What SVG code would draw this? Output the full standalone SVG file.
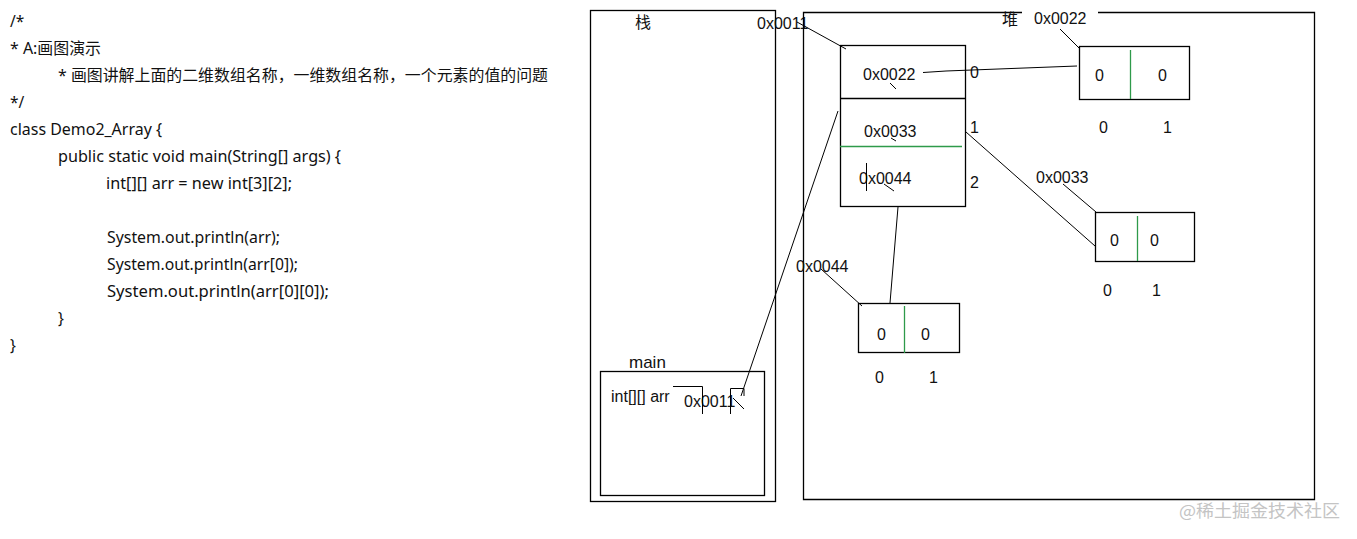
<svg xmlns="http://www.w3.org/2000/svg" width="1357" height="539" viewBox="0 0 1357 539">
<style>
.code{font-family:"Noto Sans","Noto Sans CJK SC",sans-serif;font-size:15.5px;fill:#111}
.t{font-family:"Liberation Sans","Noto Sans CJK SC",sans-serif;font-size:16px;fill:#111}
.cjk{font-family:"Noto Sans CJK SC",sans-serif;font-size:16px;fill:#111}
.box{fill:none;stroke:#000;stroke-width:1.3}
.ln{fill:none;stroke:#000;stroke-width:1}
.g{stroke:#2e9a4a;stroke-width:1.3}
.wm{font-family:"Noto Sans CJK SC",sans-serif;font-size:17px;fill:#c4c4c4}
</style>
<defs><clipPath id="arrclip"><rect x="600" y="380" width="73" height="30"/></clipPath></defs>
<rect width="1357" height="539" fill="#fff"/>
<g id="code">
<text class="code" x="10" y="27">/*</text>
<text class="code" x="10" y="54" textLength="91" lengthAdjust="spacingAndGlyphs">* A:画图演示</text>
<text class="code" x="58" y="81" textLength="490" lengthAdjust="spacingAndGlyphs">* 画图讲解上面的二维数组名称，一维数组名称，一个元素的值的问题</text>
<text class="code" x="10" y="108">*/</text>
<text class="code" x="10" y="135" textLength="152" lengthAdjust="spacingAndGlyphs">class Demo2_Array {</text>
<text class="code" x="58" y="162" textLength="283" lengthAdjust="spacingAndGlyphs">public static void main(String[] args) {</text>
<text class="code" x="106" y="189" textLength="186" lengthAdjust="spacingAndGlyphs">int[][] arr = new int[3][2];</text>
<text class="code" x="107" y="243" textLength="173" lengthAdjust="spacingAndGlyphs">System.out.println(arr);</text>
<text class="code" x="107" y="270" textLength="191" lengthAdjust="spacingAndGlyphs">System.out.println(arr[0]);</text>
<text class="code" x="107" y="297" textLength="222" lengthAdjust="spacingAndGlyphs">System.out.println(arr[0][0]);</text>
<text class="code" x="58" y="324">}</text>
<text class="code" x="10" y="351">}</text>
</g>
<g id="stack">
<rect class="box" x="590.5" y="10.5" width="185" height="491"/>
<text class="cjk" x="635" y="28">栈</text>
<text class="t" x="757" y="29">0x0011</text>
</g>
<g id="heap">
<path class="box" d="M1022 12.5 H803.5 V499.5 H1314.5 V12.5 H1098"/>
<text class="cjk" x="1002" y="25">堆</text>
<text class="t" x="1034" y="24">0x0022</text>
<text class="t" x="1036" y="183">0x0033</text>
<text class="t" x="796" y="272">0x0044</text>
</g>
<g id="main-frame">
<text class="t" x="629" y="368" style="font-size:17px">main</text>
<rect class="box" x="600.5" y="371.5" width="164" height="124"/>
<text class="t" x="611" y="402" clip-path="url(#arrclip)">int[][] arr</text>
<text class="t" x="684" y="407">0x0011</text>
<path class="ln" d="M673 386.5 H702.5 V414 M730.5 414 V388.5 H744 V396 M733 398 L744 409"/>
</g>
<g id="arr-outer">
<rect class="box" x="840.5" y="45.5" width="125" height="161"/>
<line class="box" x1="840" y1="98.5" x2="965" y2="98.5"/>
<line class="g" x1="840" y1="146.5" x2="962" y2="146.5"/>
<text class="t" x="863" y="80">0x0022</text>
<text class="t" x="864" y="137">0x0033</text>
<text class="t" x="859" y="184">0x0044</text>
<path class="ln" d="M890 83 L896 89 M891 138 L896 141 M884 184 L894 191 M866.5 163 V191"/>
<text class="t" x="970" y="78">0</text>
<text class="t" x="970" y="133">1</text>
<text class="t" x="970" y="188">2</text>
</g>
<g id="arr-0">
<rect class="box" x="1079.5" y="46.5" width="110" height="53"/>
<line class="g" x1="1130.5" y1="50" x2="1130.5" y2="99"/>
<text class="t" x="1095" y="81">0</text>
<text class="t" x="1158" y="81">0</text>
<text class="t" x="1099" y="133">0</text>
<text class="t" x="1163" y="133">1</text>
</g>
<g id="arr-1">
<rect class="box" x="1095.5" y="212.5" width="99" height="49"/>
<line class="g" x1="1137.5" y1="216" x2="1137.5" y2="261"/>
<text class="t" x="1110" y="246">0</text>
<text class="t" x="1150" y="246">0</text>
<text class="t" x="1103" y="296">0</text>
<text class="t" x="1152" y="296">1</text>
</g>
<g id="arr-2">
<rect class="box" x="858.5" y="303.5" width="101" height="49"/>
<line class="g" x1="904.5" y1="306" x2="904.5" y2="353"/>
<text class="t" x="877" y="340">0</text>
<text class="t" x="921" y="340">0</text>
<text class="t" x="875" y="383">0</text>
<text class="t" x="929" y="383">1</text>
</g>
<g id="connectors">
<path class="ln" d="M797 22 L846 49"/>
<path class="ln" d="M741 396 L838 111"/>
<path class="ln" d="M923 72.5 L946 71 L1077 66"/>
<path class="ln" d="M1060 29 L1079 48"/>
<path class="ln" d="M966 132 L1095 246"/>
<path class="ln" d="M1063 184 L1096 212"/>
<path class="ln" d="M898 207 L890 303"/>
<path class="ln" d="M821 269 L862 306"/>
</g>
<text class="wm" x="1179" y="517" textLength="161" lengthAdjust="spacingAndGlyphs">@稀土掘金技术社区</text>
</svg>
